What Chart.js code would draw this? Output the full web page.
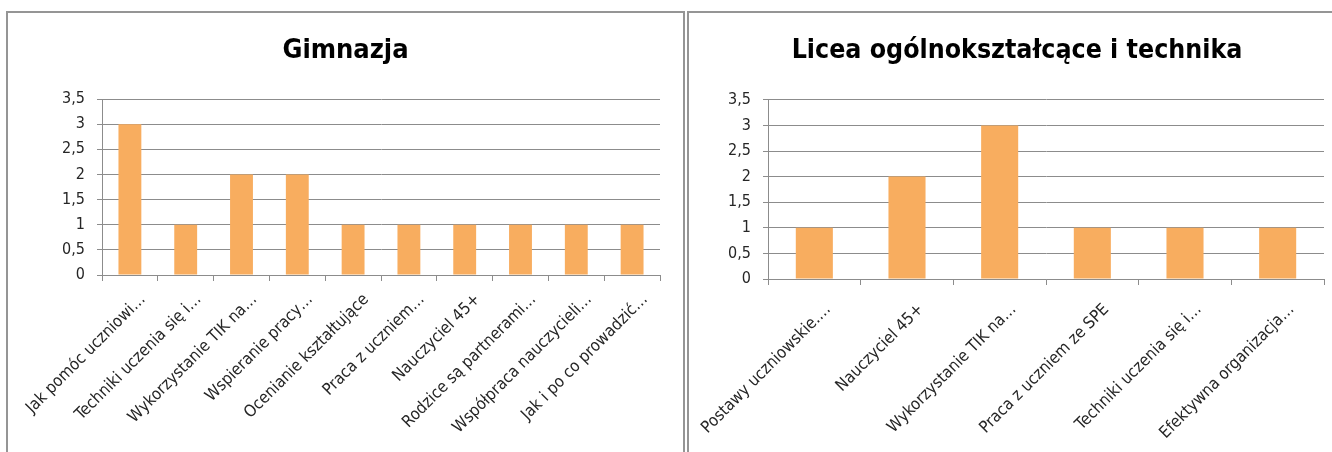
<!DOCTYPE html>
<html>
<head>
<meta charset="utf-8">
<script src="https://cdn.jsdelivr.net/npm/chart.js@4/dist/chart.umd.min.js"></script>
<style>
html,body{margin:0;padding:0;background:#fff;width:1332px;height:452px;overflow:hidden;position:relative;}
.frame{position:absolute;border:2px solid #959595;box-sizing:border-box;background:#fff;}
#f1{left:6px;top:11px;width:679px;height:460px;}
#f2{left:687px;top:11px;width:660px;height:460px;}
.frame canvas{position:absolute;left:0;top:0;}
</style>
</head>
<body>
<div class="frame" id="f1"><canvas id="c1"></canvas></div>
<div class="frame" id="f2"><canvas id="c2"></canvas></div>
<script>
const gimTitle = "Gimnazja";
const gimCategories = ["Jak pomóc uczniowi…","Techniki uczenia się i…","Wykorzystanie TIK na…","Wspieranie pracy…","Ocenianie kształtujące","Praca z uczniem…","Nauczyciel 45+","Rodzice są partnerami…","Współpraca nauczycieli…","Jak i po co prowadzić…"];
const gimValues = [3,1,2,2,1,1,1,1,1,1];

const liceaTitle = "Licea ogólnokształcące i technika";
const liceaCategories = ["Postawy uczniowskie.…","Nauczyciel 45+","Wykorzystanie TIK na…","Praca z uczniem ze SPE","Techniki uczenia się i…","Efektywna organizacja…"];
const liceaValues = [1,2,3,1,1,1];

const yTickLabels = ["0","0,5","1","1,5","2","2,5","3","3,5"];

const FONT = "'Liberation Sans Narrow','DejaVu Sans Condensed','Open Sans',sans-serif";
const BAR = '#F8AD5F';
const GRID = '#8c8c8c';

function makeChart(id, w, h, title, cats, vals, cfg){
  const cv = document.getElementById(id);
  cv.width = w; cv.height = h;
  cv.style.width = w+'px'; cv.style.height = h+'px';
  return new Chart(cv, {
    type:'bar',
    data:{labels:cats, datasets:[{data:vals, backgroundColor:BAR, borderWidth:0, categoryPercentage:1, barPercentage:cfg.barPct}]},
    options:{
      responsive:false, animation:false, devicePixelRatio:1,
      layout:{padding:{left:cfg.pad,right:cfg.pad,top:0,bottom:0}},
      plugins:{
        legend:{display:false}, tooltip:{enabled:false},
        title:{display:true, text:title, color:'#000', font:{family:FONT, size:cfg.titleSize, weight:'bold', lineHeight:1.2}, padding:{top:cfg.titleTop, bottom:cfg.titleBottom}}
      },
      scales:{
        x:{
          grid:{display:true, drawOnChartArea:false, drawTicks:true, tickLength:6, color:GRID, offset:true},
          border:{display:true, color:GRID, width:1},
          ticks:{color:'#262626', font:{family:FONT, size:16.5}, minRotation:45, maxRotation:45, autoSkip:false, labelOffset:cfg.labelOffset, padding:cfg.xPad},
          afterFit:(s)=>{ s.height = cfg.xHeight; s.paddingLeft = 0; s.paddingRight = 0; }
        },
        y:{
          min:0, max:3.5,
          grid:{color:GRID, tickLength:5, drawTicks:true},
          border:{display:true, color:GRID, width:1},
          ticks:{stepSize:0.5, color:'#262626', font:{family:FONT, size:16}, padding:12,
            callback:(v)=>yTickLabels[Math.round(v*2)]},
          afterFit:(s)=>{ s.width = cfg.yWidth; s.paddingTop = 0; s.paddingBottom = 0; }
        }
      }
    }
  });
}

makeChart('c1', 675, 456, gimTitle, gimCategories, gimValues,
  {barPct:0.41, pad:23, titleSize:27, titleTop:22, titleBottom:31.6, xHeight:194, yWidth:71, labelOffset:13, xPad:9});
makeChart('c2', 656, 456, liceaTitle, liceaCategories, liceaValues,
  {barPct:0.40, pad:21, titleSize:26.5, titleTop:22, titleBottom:33, xHeight:190, yWidth:58, labelOffset:14, xPad:15});
</script>
</body>
</html>
